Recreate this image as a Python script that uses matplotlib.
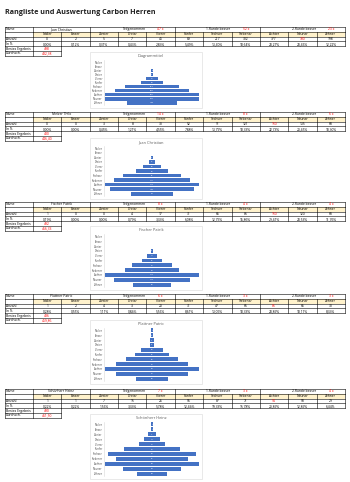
import matplotlib
matplotlib.use("Agg")
import matplotlib.pyplot as plt
from matplotlib.patches import Rectangle
import numpy as np

W, H = 350, 482
FONT = "Open Sans"

kategorien = ["Nuller", "Einser", "Zweier", "Dreier", "Vierer", "Fünfer",
              "Sechser", "Siebener", "Achter", "Neuner", "Zehner"]

namen = ["Juan Christian", "Melzer Thilo", "Fischer Patrik", "Plattner Patric", "Schönherr Heinz"]
diagramm_titel = ["Diagrammtitel", "Juan Christian", "Fischer Patrik", "Plattner Patric", "Schönherr Heinz"]

anzahl_juan = [0, 2, 5, 7, 45, 89, 217, 302, 377, 380, 198]
anzahl_melzer = [0, 0, 3, 8, 30, 52, 91, 121, 150, 135, 68]
anzahl_fischer = [1, 0, 0, 4, 17, 31, 65, 86, 150, 120, 60]
anzahl_plattner = [1, 2, 4, 3, 20, 31, 47, 66, 86, 65, 30]
anzahl_schoenherr = [1, 1, 7, 15, 26, 56, 87, 71, 94, 58, 29]

prozent_juan = ["0,00%", "0,12%", "0,31%", "0,43%", "2,83%", "5,49%", "13,40%", "18,64%", "23,27%", "23,46%", "12,22%"]
prozent_melzer = ["0,00%", "0,00%", "0,45%", "1,21%", "4,55%", "7,88%", "13,79%", "18,33%", "22,73%", "20,45%", "10,30%"]
prozent_fischer = ["0,19%", "0,00%", "0,00%", "0,79%", "3,33%", "6,08%", "12,75%", "16,86%", "29,41%", "23,53%", "11,76%"]
prozent_plattner = ["0,28%", "0,55%", "1,11%", "0,84%", "5,56%", "8,61%", "13,06%", "18,33%", "23,89%", "18,11%", "8,33%"]
prozent_schoenherr = ["0,22%", "0,22%", "1,56%", "3,33%", "5,78%", "12,44%", "19,33%", "15,78%", "20,89%", "12,89%", "6,44%"]

teilgenommen = ["47 x", "14 x", "8 x", "6 x", "7 x"]
runde1_besser = ["52 x", "8 x", "4 x", "3 x", "3 x"]
runde2_besser = ["23 x", "6 x", "4 x", "3 x", "4 x"]
bestes_ergebnis = ["498", "480", "492", "486", "490"]
durchschnitt = ["482,38", "446,40", "466,33", "459,86", "461,50"]

alle_anzahl = [anzahl_juan, anzahl_melzer, anzahl_fischer, anzahl_plattner, anzahl_schoenherr]
alle_prozent = [prozent_juan, prozent_melzer, prozent_fischer, prozent_plattner, prozent_schoenherr]

# layout (pixels from top)
tabelle_oben = [27, 112, 202, 294, 389]
diagramm_box = [(90, 52, 202, 108), (90, 138, 202, 199), (90, 226, 202, 290),
                (90, 320, 202, 384), (90, 414, 202, 479)]

BLAU = "#4472C4"
GELB = "#FFF2CC"
ROT = "#FF0000"

fig = plt.figure(figsize=(W / 100, H / 100), dpi=100)
ax = fig.add_axes([0, 0, 1, 1])
ax.set_xlim(0, W)
ax.set_ylim(H, 0)
ax.axis("off")

ax.text(5, 12, "Rangliste und Auswertung Carbon Herren", fontsize=5.2,
        fontweight="bold", family=FONT, va="center", ha="left", color="#222222")

x0, xn = 5, 33
cw = (345 - 33) / 11
rh = 4.8
fs = 2.4


def col_x(i):
    return xn + i * cw


def hline(y, xa, xb):
    ax.plot([xa, xb], [y, y], color="black", lw=0.4)


def vline(x, ya, yb):
    ax.plot([x, x], [ya, yb], color="black", lw=0.4)


def txt(x, y, s, ha="center", color="black", weight="normal"):
    ax.text(x, y, s, fontsize=fs, family=FONT, ha=ha, va="center",
            color=color, fontweight=weight)


def tabelle(top, k):
    counts = alle_anzahl[k]
    pcts = alle_prozent[k]
    imax = int(np.argmax(counts))
    # header fill
    ax.add_patch(Rectangle((col_x(0), top + rh), 11 * cw, rh, color=GELB, lw=0))
    # row 0
    hline(top, x0, 345)
    for xb in [x0, xn, col_x(2), col_x(5), col_x(8), 345]:
        vline(xb, top, top + rh)
    txt(x0 + 1, top + rh / 2, "Name", ha="left")
    txt(col_x(1), top + rh / 2, namen[k])
    labels = [("Teilgenommen", teilgenommen[k]), ("1.Runde besser", runde1_besser[k]),
              ("2.Runde besser", runde2_besser[k])]
    for j, (lab, val) in enumerate(labels):
        c = 2 + 3 * j
        txt(col_x(c + 2) - 1, top + rh / 2, lab, ha="right")
        txt(col_x(c + 2) + cw / 2, top + rh / 2, val, color=ROT)
    # rows 1-3 full grid
    for r in range(1, 5):
        hline(top + r * rh, x0, 345)
    for i in range(12):
        vline(col_x(i), top + rh, top + 4 * rh)
    vline(x0, top + rh, top + 4 * rh)
    for i, cat in enumerate(kategorien):
        cx = col_x(i) + cw / 2
        txt(cx, top + 1.5 * rh, cat)
        txt(cx, top + 2.5 * rh, str(counts[i]), color=ROT if i == imax else "black")
        txt(cx, top + 3.5 * rh, pcts[i])
    txt(x0 + 1, top + 2.5 * rh, "Anzahl", ha="left")
    txt(x0 + 1, top + 3.5 * rh, "In %", ha="left")
    # rows 4-5
    for r in (5, 6):
        hline(top + r * rh, x0, col_x(1))
    for xb in (x0, xn, col_x(1)):
        vline(xb, top + 4 * rh, top + 6 * rh)
    txt(x0 + 1, top + 4.5 * rh, "Bestes Ergebnis", ha="left")
    txt(x0 + 1, top + 5.5 * rh, "Durchsch.", ha="left")
    txt(col_x(0) + cw / 2, top + 4.5 * rh, bestes_ergebnis[k], color=ROT)
    txt(col_x(0) + cw / 2, top + 5.5 * rh, durchschnitt[k], color=ROT)


def diagramm(box, k):
    bx0, by0, bx1, by1 = box
    ax.add_patch(Rectangle((bx0, by0), bx1 - bx0, by1 - by0, facecolor="white",
                           edgecolor="#D9D9D9", lw=0.4))
    ax.text((bx0 + bx1) / 2 + 5, by0 + 4, diagramm_titel[k], fontsize=2.8, family=FONT,
            ha="center", va="center", color="#595959")
    l, r = bx0 + 14, bx1 - 2
    t, b = by0 + 8, by1 - 3
    bax = fig.add_axes([l / W, 1 - b / H, (r - l) / W, (b - t) / H])
    vals = np.array(alle_anzahl[k], dtype=float)
    y = np.arange(len(kategorien))
    bax.barh(y, vals, left=-vals / 2, height=0.8, color=BLAU)
    m = vals.max()
    bax.set_xlim(-m / 2 * 1.02, m / 2 * 1.02)
    bax.set_ylim(len(kategorien) - 0.5, -0.5)
    bax.set_yticks(y)
    bax.set_yticklabels(kategorien, fontsize=1.9, family=FONT, color="#404040")
    bax.tick_params(axis="y", length=0, pad=1)
    bax.set_xticks([])
    for s in ("top", "right", "bottom"):
        bax.spines[s].set_visible(False)
    bax.spines["left"].set_color("#D9D9D9")
    bax.spines["left"].set_linewidth(0.4)
    for yi, v in zip(y, vals):
        bax.text(0, yi, str(int(v)), fontsize=1.6, family=FONT, ha="center",
                 va="center", color="white")


for k in range(5):
    tabelle(tabelle_oben[k], k)
    diagramm(diagramm_box[k], k)

fig.savefig("out.png", dpi=100)
